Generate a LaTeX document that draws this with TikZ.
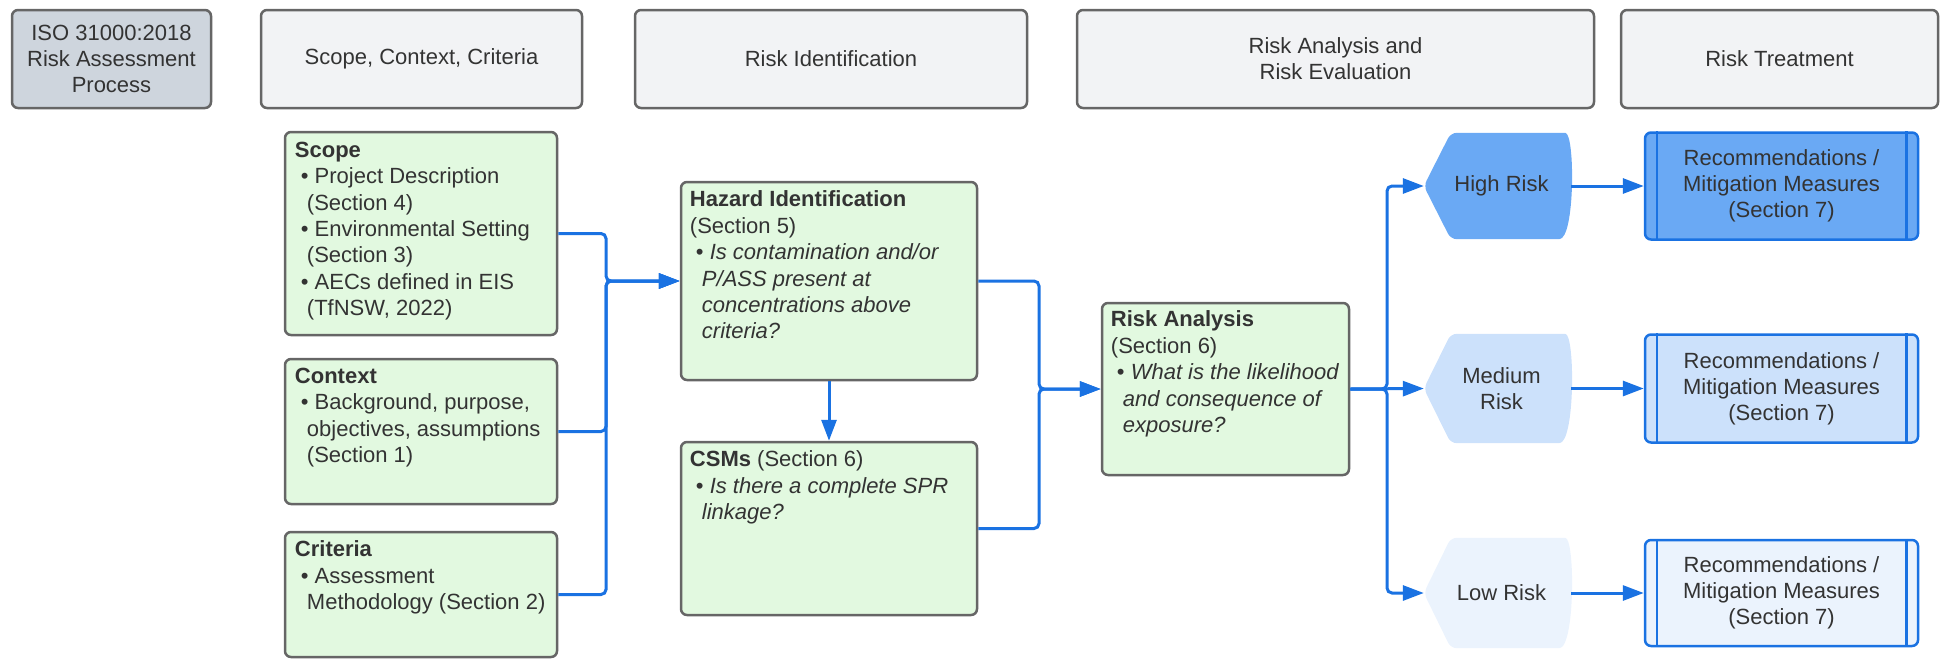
\documentclass[tikz,border=0pt]{standalone}
\usepackage{fontspec}
\setmainfont{Liberation Sans}
\usetikzlibrary{arrows.meta,backgrounds}
\definecolor{txt}{HTML}{333333}
\definecolor{bord}{HTML}{666666}
\definecolor{hdrfill}{HTML}{F2F3F5}
\definecolor{isofill}{HTML}{CED5DD}
\definecolor{grn}{HTML}{E2F9E0}
\definecolor{blu}{HTML}{1A72E2}
\definecolor{hifill}{HTML}{6AA9F4}
\definecolor{medfill}{HTML}{CCE1FB}
\definecolor{lofill}{HTML}{EBF3FD}
\newcommand{\dispshape}[2]{%
  \fill[#2, rounded corners=6pt] (#1.west) -- ([xshift=27pt]#1.north west) -- ([xshift=-12pt]#1.north east)
    [sharp corners] .. controls ([xshift=4pt]#1.north east) and ([xshift=4pt]#1.south east) .. ([xshift=-12pt]#1.south east)
    [rounded corners=6pt] -- ([xshift=27pt]#1.south west) -- cycle;}
\newcommand{\recbars}[1]{%
  \draw[blu, line width=2.5pt] ([xshift=13pt]#1.north west) -- ([xshift=13pt]#1.south west);
  \draw[blu, line width=2.5pt] ([xshift=-13pt]#1.north east) -- ([xshift=-13pt]#1.south east);}
\begin{document}
\begin{tikzpicture}[x=1pt,y=-1pt,
  every node/.style={text=txt, font=\fontsize{22}{26}\selectfont},
  hdr/.style={draw=bord, line width=2.5pt, fill=hdrfill, rounded corners=6pt, align=center, inner sep=0pt, minimum height=98pt},
  gbox/.style={draw=bord, line width=2.5pt, fill=grn, rounded corners=6pt, inner sep=0pt},
  gtext/.style={anchor=north west, align=left, inner sep=0pt, font=\fontsize{22}{26.4}\selectfont},
  hexnode/.style={inner sep=0pt, align=center, minimum width=147pt},
  recbox/.style={draw=blu, line width=2.5pt, rounded corners=6pt, inner sep=0pt, align=center, minimum width=273pt},
  conn/.style={draw=blu, line width=3pt, rounded corners=5pt},
  arr/.style={conn, -{Triangle[length=21pt,width=15pt]}}
]
\useasboundingbox (0,0) rectangle (1950,659);

% header row
\node[hdr, fill=isofill, minimum width=199pt] (iso) at (111.5,59) {ISO 31000:2018\\Risk Assessment\\Process};
\node[hdr, minimum width=321pt] (h1) at (421.5,59) {Scope, Context, Criteria};
\node[hdr, minimum width=392pt] (h2) at (831,59) {Risk Identification};
\node[hdr, minimum width=517pt] (h3) at (1335.5,59) {Risk Analysis and\\Risk Evaluation};
\node[hdr, minimum width=317pt] (h4) at (1779.5,59) {Risk Treatment};

% green boxes
\node[gbox, minimum width=272pt, minimum height=203pt] (scope) at (421,233.5) {};
\node[gbox, minimum width=272pt, minimum height=145pt] (context) at (421,431.5) {};
\node[gbox, minimum width=272pt, minimum height=125pt] (criteria) at (421,594.5) {};
\node[gbox, minimum width=296pt, minimum height=198pt] (hazard) at (829,281) {};
\node[gbox, minimum width=296pt, minimum height=173pt] (csms) at (829,528.5) {};
\node[gbox, minimum width=247pt, minimum height=172pt] (ra) at (1225.5,389) {};

\node[gtext] (scopet) at ([xshift=11pt,yshift=-11pt]scope.north west) {\textbf{Scope}\\
\hspace*{6pt}•~Project Description\\
\hspace*{12pt}(Section 4)\\
\hspace*{6pt}•~Environmental Setting\\
\hspace*{12pt}(Section 3)\\
\hspace*{6pt}•~AECs defined in EIS\\
\hspace*{12pt}(TfNSW, 2022)};
\node[gtext] (contextt) at ([xshift=11pt,yshift=-10pt]context.north west) {\textbf{Context}\\
\hspace*{6pt}•~Background, purpose,\\
\hspace*{12pt}objectives, assumptions\\
\hspace*{12pt}(Section 1)};
\node[gtext] (criteriat) at ([xshift=11pt,yshift=-10pt]criteria.north west) {\textbf{Criteria}\\
\hspace*{6pt}•~Assessment\\
\hspace*{12pt}Methodology (Section 2)};
\node[gtext] (hazardt) at ([xshift=10pt,yshift=-10pt]hazard.north west) {\textbf{Hazard Identification}\\
(Section 5)\\
\hspace*{6pt}•~\textit{Is contamination and/or}\\
\hspace*{12pt}\textit{P/ASS present at}\\
\hspace*{12pt}\textit{concentrations above}\\
\hspace*{12pt}\textit{criteria?}};
\node[gtext] (csmst) at ([xshift=10pt,yshift=-10pt]csms.north west) {\textbf{CSMs} (Section 6)\\
\hspace*{6pt}•~\textit{Is there a complete SPR}\\
\hspace*{12pt}\textit{linkage?}};
\node[gtext] (rat) at ([xshift=10pt,yshift=-9pt]ra.north west) {\textbf{Risk Analysis}\\
(Section 6)\\
\hspace*{6pt}•~\textit{What is the likelihood}\\
\hspace*{12pt}\textit{and consequence of}\\
\hspace*{12pt}\textit{exposure?}};

% risk level shapes
\node[hexnode, minimum height=106pt] (hi) at (1497.5,186) {\hspace*{8pt}High Risk};
\node[hexnode, minimum height=109pt] (med) at (1497.5,388.5) {\hspace*{8pt}Medium\\\hspace*{8pt}Risk};
\node[hexnode, minimum height=110pt] (lo) at (1497.5,593) {\hspace*{8pt}Low Risk};
\begin{pgfonlayer}{background}
\dispshape{hi}{hifill}
\dispshape{med}{medfill}
\dispshape{lo}{lofill}
\end{pgfonlayer}

% treatment boxes
\node[recbox, fill=hifill, minimum height=107pt] (rhi) at (1781.5,186) {Recommendations /\\Mitigation Measures\\(Section 7)};
\node[recbox, fill=medfill, minimum height=108pt] (rmed) at (1781.5,388.5) {Recommendations /\\Mitigation Measures\\(Section 7)};
\node[recbox, fill=lofill, minimum height=106pt] (rlo) at (1781.5,593) {Recommendations /\\Mitigation Measures\\(Section 7)};
\recbars{rhi}
\recbars{rmed}
\recbars{rlo}

% bus coordinates
\coordinate (b1) at (606,0);
\coordinate (b2) at (1039,0);
\coordinate (b3) at (1387,0);

% connectors
\draw[arr] (scope.east) -- (scope.east -| b1) -- (b1 |- hazard.west) -- (hazard.west);
\draw[arr] (context.east) -- (context.east -| b1) -- (b1 |- hazard.west) -- (hazard.west);
\draw[arr] (criteria.east) -- (criteria.east -| b1) -- (b1 |- hazard.west) -- (hazard.west);
\draw[arr] (hazard.south) -- (csms.north);
\draw[arr] (hazard.east) -- (hazard.east -| b2) -- (b2 |- ra.west) -- (ra.west);
\draw[arr] (csms.east) -- (csms.east -| b2) -- (b2 |- ra.west) -- (ra.west);
\draw[arr] (ra.east) -- (ra.east -| b3) -- (b3 |- hi.west) -- (hi.west);
\draw[arr] (ra.east) -- (med.west);
\draw[arr] (ra.east) -- (ra.east -| b3) -- (b3 |- lo.west) -- (lo.west);
\draw[arr] (hi.east) -- (rhi.west);
\draw[arr] (med.east) -- (rmed.west);
\draw[arr] (lo.east) -- (rlo.west);
\end{tikzpicture}
\end{document}
